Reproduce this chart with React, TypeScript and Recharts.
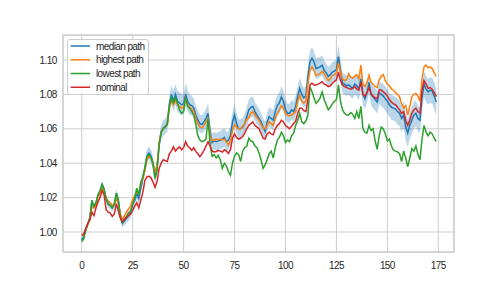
import React from 'react';
import { ComposedChart, Line, Area, XAxis, YAxis, CartesianGrid, ReferenceArea, Legend } from 'recharts';

const medianPath = [
  0.9953, 0.9975, 1.0015, 1.0045, 1.0080, 1.0175, 1.0145, 1.0165, 1.0215, 1.0235,
  1.0275, 1.0250, 1.0190, 1.0165, 1.0155, 1.0140, 1.0160, 1.0225, 1.0185, 1.0090,
  1.0050, 1.0065, 1.0080, 1.0095, 1.0110, 1.0160, 1.0185, 1.0225, 1.0195, 1.0255,
  1.0315, 1.0370, 1.0440, 1.0460, 1.0440, 1.0400, 1.0320, 1.0380, 1.0510, 1.0580,
  1.0605, 1.0615, 1.0630, 1.0740, 1.0800, 1.0760, 1.0800, 1.0760, 1.0750, 1.0740,
  1.0745, 1.0800, 1.0760, 1.0740, 1.0735, 1.0720, 1.0680, 1.0650, 1.0630, 1.0625,
  1.0640, 1.0660, 1.0690, 1.0580, 1.0520, 1.0530, 1.0525, 1.0530, 1.0535, 1.0540,
  1.0550, 1.0525, 1.0535, 1.0560, 1.0640, 1.0680, 1.0630, 1.0600, 1.0600, 1.0610,
  1.0630, 1.0670, 1.0710, 1.0725, 1.0730, 1.0700, 1.0680, 1.0660, 1.0640, 1.0610,
  1.0585, 1.0640, 1.0670, 1.0660, 1.0650, 1.0700, 1.0735, 1.0750, 1.0785, 1.0760,
  1.0710, 1.0690, 1.0690, 1.0710, 1.0700, 1.0730, 1.0790, 1.0835, 1.0800, 1.0780,
  1.0790, 1.0900, 1.0990, 1.1010, 1.0990, 1.0950, 1.0955, 1.0960, 1.0970, 1.0940,
  1.0925, 1.0905, 1.0915, 1.0930, 1.0935, 1.0945, 1.1020, 1.0940, 1.0865, 1.0860,
  1.0850, 1.0855, 1.0845, 1.0835, 1.0860, 1.0850, 1.0830, 1.0890, 1.0800, 1.0775,
  1.0810, 1.0870, 1.0800, 1.0785, 1.0770, 1.0755, 1.0810, 1.0800, 1.0790, 1.0775,
  1.0760, 1.0740, 1.0725, 1.0720, 1.0715, 1.0700, 1.0690, 1.0660, 1.0680, 1.0610,
  1.0575, 1.0620, 1.0650, 1.0680, 1.0690, 1.0660, 1.0650, 1.0780, 1.0860, 1.0830,
  1.0815, 1.0825, 1.0820, 1.0790, 1.0755,
];

const highestPath = [
  0.9980, 0.9985, 1.0020, 1.0045, 1.0080, 1.0145, 1.0140, 1.0160, 1.0205, 1.0225,
  1.0255, 1.0235, 1.0195, 1.0180, 1.0170, 1.0155, 1.0165, 1.0195, 1.0160, 1.0105,
  1.0070, 1.0095, 1.0115, 1.0135, 1.0150, 1.0190, 1.0210, 1.0230, 1.0225, 1.0285,
  1.0310, 1.0355, 1.0420, 1.0440, 1.0430, 1.0400, 1.0345, 1.0390, 1.0520, 1.0580,
  1.0600, 1.0610, 1.0625, 1.0720, 1.0765, 1.0740, 1.0765, 1.0740, 1.0730, 1.0720,
  1.0725, 1.0775, 1.0740, 1.0725, 1.0715, 1.0700, 1.0660, 1.0630, 1.0610, 1.0605,
  1.0620, 1.0640, 1.0660, 1.0560, 1.0530, 1.0535, 1.0540, 1.0535, 1.0540, 1.0535,
  1.0540, 1.0525, 1.0505, 1.0530, 1.0590, 1.0625, 1.0610, 1.0600, 1.0600, 1.0615,
  1.0630, 1.0655, 1.0665, 1.0690, 1.0700, 1.0680, 1.0665, 1.0650, 1.0625, 1.0605,
  1.0600, 1.0620, 1.0640, 1.0630, 1.0620, 1.0660, 1.0690, 1.0710, 1.0735, 1.0720,
  1.0690, 1.0680, 1.0675, 1.0680, 1.0690, 1.0700, 1.0760, 1.0795, 1.0760, 1.0750,
  1.0760, 1.0860, 1.0940, 1.0960, 1.0940, 1.0910, 1.0915, 1.0920, 1.0935, 1.0920,
  1.0900, 1.0880, 1.0890, 1.0910, 1.0915, 1.0925, 1.0985, 1.0930, 1.0890, 1.0880,
  1.0885, 1.0920, 1.0900, 1.0895, 1.0905, 1.0915, 1.0890, 1.0970, 1.0860, 1.0845,
  1.0870, 1.0910, 1.0870, 1.0860, 1.0845, 1.0840, 1.0885, 1.0905, 1.0915, 1.0880,
  1.0860, 1.0850, 1.0830, 1.0825, 1.0810, 1.0800, 1.0785, 1.0745, 1.0720, 1.0735,
  1.0680, 1.0730, 1.0785, 1.0800, 1.0805, 1.0790, 1.0760, 1.0890, 1.0960, 1.0970,
  1.0955, 1.0960, 1.0950, 1.0925, 1.0905,
];

const lowestPath = [
  0.9944, 0.9960, 1.0010, 1.0050, 1.0085, 1.0185, 1.0150, 1.0170, 1.0215, 1.0240,
  1.0275, 1.0245, 1.0195, 1.0160, 1.0155, 1.0140, 1.0160, 1.0225, 1.0180, 1.0085,
  1.0055, 1.0075, 1.0090, 1.0110, 1.0120, 1.0165, 1.0195, 1.0255, 1.0215, 1.0290,
  1.0320, 1.0370, 1.0435, 1.0450, 1.0435, 1.0395, 1.0310, 1.0360, 1.0505, 1.0580,
  1.0600, 1.0610, 1.0625, 1.0730, 1.0780, 1.0750, 1.0780, 1.0750, 1.0710, 1.0690,
  1.0700, 1.0780, 1.0730, 1.0720, 1.0700, 1.0680, 1.0625, 1.0560, 1.0535, 1.0525,
  1.0530, 1.0540, 1.0660, 1.0510, 1.0440, 1.0450, 1.0430, 1.0445, 1.0420, 1.0370,
  1.0400, 1.0385, 1.0350, 1.0330, 1.0400, 1.0440, 1.0460, 1.0450, 1.0410, 1.0470,
  1.0490, 1.0500, 1.0545, 1.0530, 1.0525, 1.0500, 1.0490, 1.0460, 1.0420, 1.0370,
  1.0390, 1.0420, 1.0455, 1.0470, 1.0430, 1.0490, 1.0535, 1.0550, 1.0580, 1.0560,
  1.0520, 1.0535, 1.0525, 1.0560, 1.0575, 1.0620, 1.0650, 1.0690, 1.0640, 1.0630,
  1.0645, 1.0680, 1.0845, 1.0815, 1.0780, 1.0748, 1.0760, 1.0780, 1.0815, 1.0770,
  1.0740, 1.0710, 1.0725, 1.0745, 1.0760, 1.0770, 1.0855, 1.0760, 1.0710, 1.0690,
  1.0680, 1.0680, 1.0695, 1.0685, 1.0660, 1.0700, 1.0660, 1.0730, 1.0600, 1.0580,
  1.0575, 1.0620, 1.0590, 1.0600, 1.0530, 1.0480, 1.0560, 1.0610, 1.0600, 1.0570,
  1.0530, 1.0540, 1.0500, 1.0475, 1.0470, 1.0465, 1.0455, 1.0410, 1.0470, 1.0430,
  1.0380, 1.0430, 1.0485, 1.0470, 1.0500, 1.0450, 1.0420, 1.0540, 1.0620, 1.0580,
  1.0560, 1.0580, 1.0570, 1.0545, 1.0525,
];

const nominal = [
  0.9980, 0.9990, 1.0020, 1.0050, 1.0070, 1.0115, 1.0095, 1.0140, 1.0175, 1.0200,
  1.0240, 1.0215, 1.0130, 1.0115, 1.0110, 1.0090, 1.0105, 1.0165, 1.0120, 1.0080,
  1.0060, 1.0075, 1.0085, 1.0095, 1.0105, 1.0125, 1.0150, 1.0170, 1.0140, 1.0185,
  1.0230, 1.0300, 1.0320, 1.0325, 1.0315, 1.0290, 1.0260, 1.0295, 1.0370, 1.0400,
  1.0420, 1.0415, 1.0410, 1.0455, 1.0470, 1.0495, 1.0470, 1.0485, 1.0495, 1.0478,
  1.0490, 1.0525, 1.0500, 1.0490, 1.0475, 1.0490, 1.0467, 1.0455, 1.0438, 1.0455,
  1.0475, 1.0500, 1.0525, 1.0500, 1.0470, 1.0465, 1.0468, 1.0475, 1.0470, 1.0465,
  1.0478, 1.0470, 1.0457, 1.0480, 1.0545, 1.0570, 1.0550, 1.0540, 1.0545, 1.0555,
  1.0575, 1.0600, 1.0620, 1.0630, 1.0640, 1.0620, 1.0610, 1.0600, 1.0575, 1.0545,
  1.0540, 1.0570, 1.0580, 1.0570, 1.0565, 1.0600, 1.0620, 1.0630, 1.0650, 1.0640,
  1.0620, 1.0610, 1.0600, 1.0615, 1.0630, 1.0645, 1.0690, 1.0720, 1.0720, 1.0705,
  1.0700, 1.0770, 1.0855, 1.0865, 1.0855, 1.0855, 1.0860, 1.0865, 1.0874, 1.0860,
  1.0855, 1.0845, 1.0850, 1.0865, 1.0875, 1.0884, 1.0930, 1.0880, 1.0855, 1.0845,
  1.0840, 1.0835, 1.0830, 1.0835, 1.0845, 1.0830, 1.0825, 1.0870, 1.0800, 1.0790,
  1.0810, 1.0840, 1.0805, 1.0790, 1.0780, 1.0775, 1.0825, 1.0825, 1.0815, 1.0805,
  1.0790, 1.0770, 1.0755, 1.0745, 1.0740, 1.0725, 1.0710, 1.0690, 1.0700, 1.0650,
  1.0620, 1.0650, 1.0690, 1.0710, 1.0720, 1.0700, 1.0690, 1.0820, 1.0880, 1.0860,
  1.0835, 1.0840, 1.0830, 1.0810, 1.0787,
];

// half-width of the shaded band around the median, in thousandths
const bandHalfWidth = [
  1.0, 1.0, 1.2, 1.2, 1.5, 1.5, 1.5, 1.8, 1.8, 2.0,
  2.0, 2.0, 2.0, 2.2, 2.2, 2.0, 2.2, 2.5, 2.5, 2.5,
  2.5, 2.5, 2.8, 2.8, 3.0, 3.0, 3.0, 3.2, 3.2, 3.5,
  3.5, 3.5, 3.8, 3.8, 4.0, 4.0, 4.0, 4.2, 4.2, 4.5,
  4.5, 4.5, 4.8, 5.0, 5.5, 6.0, 6.0, 6.0, 6.2, 6.0,
  6.0, 6.5, 6.2, 6.0, 5.8, 5.5, 5.5, 5.5, 5.2, 5.2,
  5.5, 5.5, 5.8, 5.5, 5.2, 5.0, 5.0, 5.2, 5.2, 5.5,
  5.5, 5.5, 5.2, 5.5, 5.8, 6.0, 5.8, 5.5, 5.5, 5.5,
  5.5, 5.8, 6.0, 6.0, 5.8, 5.5, 5.5, 5.5, 5.2, 5.2,
  5.5, 5.5, 5.5, 5.8, 5.8, 6.0, 6.0, 6.2, 6.2, 6.0,
  5.8, 5.5, 5.5, 5.5, 5.8, 6.0, 6.0, 6.2, 6.0, 5.8,
  5.8, 6.0, 6.2, 6.5, 6.2, 6.0, 6.0, 5.8, 5.8, 5.8,
  5.5, 5.5, 5.5, 5.8, 5.8, 6.0, 6.5, 6.2, 6.0, 5.8,
  5.8, 5.8, 6.0, 6.0, 6.0, 6.2, 6.2, 6.5, 6.2, 6.0,
  6.0, 6.2, 6.2, 6.5, 6.5, 6.5, 6.8, 6.8, 7.0, 7.0,
  7.0, 7.0, 7.2, 7.2, 7.2, 7.5, 7.5, 7.5, 7.8, 7.8,
  8.0, 8.0, 7.8, 7.8, 7.5, 7.5, 7.5, 7.5, 7.5, 7.5,
  7.5, 7.5, 7.5, 7.8, 8.0,
];

const xTicks = [0, 25, 50, 75, 100, 125, 150, 175];
const yTicks = [1.0, 1.02, 1.04, 1.06, 1.08, 1.1];
const seriesNames = ['median path', 'highest path', 'lowest path', 'nominal'];

const C0 = '#1f77b4';
const C1 = '#ff7f0e';
const C2 = '#2ca02c';
const C3 = '#d62728';
const seriesColors = [C0, C1, C2, C3];

const X_DOMAIN: [number, number] = [-9.18, 182.7];
const Y_DOMAIN: [number, number] = [0.98837, 1.11453];
const FONT = '"Liberation Sans", Arial, Helvetica, sans-serif';
const TEXT_COLOR = '#262626';

const data = medianPath.map((m, i) => ({
  x: i,
  median: m,
  highest: highestPath[i],
  lowest: lowestPath[i],
  nominal: nominal[i],
  band: [m - bandHalfWidth[i] / 1000, m + bandHalfWidth[i] / 1000],
}));

const XTick = (props: any) => (
  <text
    x={props.x}
    y={props.y}
    dy="0.71em"
    textAnchor="middle"
    fontSize={10}
    fontFamily={FONT}
    fill={TEXT_COLOR}
    style={{ letterSpacing: '-0.6px' }}
  >
    {props.payload.value}
  </text>
);

const YTick = (props: any) => (
  <text
    x={props.x}
    y={props.y}
    dy="0.355em"
    textAnchor="end"
    fontSize={10}
    fontFamily={FONT}
    fill={TEXT_COLOR}
    style={{ letterSpacing: '-0.6px' }}
  >
    {Number(props.payload.value).toFixed(2)}
  </text>
);

const LegendBox = () => (
  <svg width={82} height={56} style={{ display: 'block', overflow: 'visible' }}>
    <rect x={0.5} y={0.5} width={81} height={55} rx={2.5} ry={2.5} fill="#ffffff" fillOpacity={0.8} stroke="#cccccc" strokeWidth={1} />
    {seriesNames.map((name, k) => {
      const cy = 7 + k * 13.75;
      return (
        <g key={name}>
          <line x1={3.7} x2={23} y1={cy} y2={cy} stroke={seriesColors[k]} strokeWidth={1.5} />
          <text x={29} y={cy} dy="0.355em" fontSize={10} fontFamily={FONT} fill={TEXT_COLOR} style={{ letterSpacing: '-0.6px' }}>
            {name}
          </text>
        </g>
      );
    })}
  </svg>
);

export default function App() {
  return (
    <div style={{ position: 'absolute', left: 0, top: 0, width: 504, height: 288, background: '#ffffff' }}>
      <ComposedChart width={504} height={288} data={data} margin={{ top: 35, right: 50, bottom: 0, left: 0 }}>
        <CartesianGrid stroke="#cccccc" strokeWidth={1} />
        <XAxis
          dataKey="x"
          type="number"
          domain={X_DOMAIN}
          ticks={xTicks}
          allowDataOverflow
          axisLine={false}
          tickLine={false}
          tickSize={0}
          tickMargin={9.5}
          height={36}
          tick={<XTick />}
          interval={0}
        />
        <YAxis
          type="number"
          domain={Y_DOMAIN}
          ticks={yTicks}
          allowDataOverflow
          axisLine={false}
          tickLine={false}
          tickSize={0}
          tickMargin={6.3}
          width={63}
          tick={<YTick />}
          interval={0}
        />
        <ReferenceArea
          x1={X_DOMAIN[0]}
          x2={X_DOMAIN[1]}
          y1={Y_DOMAIN[0]}
          y2={Y_DOMAIN[1]}
          fill="none"
          stroke="#cccccc"
          strokeWidth={1.25}
          ifOverflow="visible"
        />
        <Area dataKey="band" type="linear" stroke="none" fill={C0} fillOpacity={0.3} isAnimationActive={false} activeDot={false} legendType="none" />
        <Line dataKey="median" type="linear" stroke={C0} strokeWidth={1.5} dot={false} activeDot={false} isAnimationActive={false} />
        <Line dataKey="highest" type="linear" stroke={C1} strokeWidth={1.5} dot={false} activeDot={false} isAnimationActive={false} />
        <Line dataKey="lowest" type="linear" stroke={C2} strokeWidth={1.5} dot={false} activeDot={false} isAnimationActive={false} />
        <Line dataKey="nominal" type="linear" stroke={C3} strokeWidth={1.5} dot={false} activeDot={false} isAnimationActive={false} />
        <Legend
          layout="horizontal"
          verticalAlign="middle"
          align="center"
          content={() => <LegendBox />}
          wrapperStyle={{ position: 'absolute', left: 67, top: 39, width: 82, height: 56, margin: 0, padding: 0 }}
        />
      </ComposedChart>
    </div>
  );
}
